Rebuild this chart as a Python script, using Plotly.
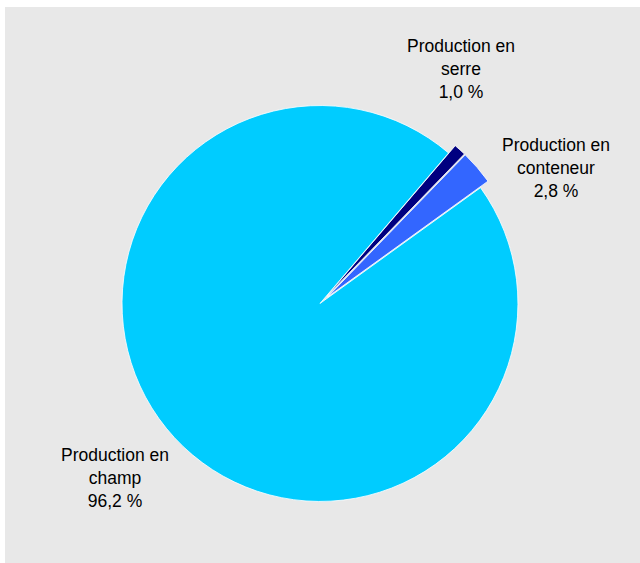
import plotly.graph_objects as go

# data
labels = ['Production en serre', 'Production en conteneur', 'Production en champ']
label_lines = ['Production en<br>serre', 'Production en<br>conteneur', 'Production en<br>champ']
values = [1.0, 2.8, 96.2]
colors = ['#000080', '#3366ff', '#00ccff']
pulls = [0.05, 0.05, 0]

# label anchor positions (paper coords)
label_x = [0.718, 0.868, 0.173]
label_y = [0.889, 0.711, 0.153]

fig = go.Figure()
fig.add_trace(go.Pie(
    labels=labels, values=values, sort=False, direction='clockwise',
    rotation=40.5, pull=pulls, textinfo='none', hoverinfo='label+percent',
    marker=dict(colors=colors, line=dict(color='white', width=0.8)),
    domain=dict(x=[0.1687, 0.8234], y=[0.0929, 0.8406]),
    showlegend=False,
))

for txt, v, x, y in zip(label_lines, values, label_x, label_y):
    fig.add_annotation(
        text=txt + '<br>' + f'{v:.1f} %'.replace('.', ','),
        x=x, y=y, xref='paper', yref='paper', showarrow=False,
        xanchor='center', yanchor='middle', align='center',
        font=dict(family='Liberation Sans, Arial', size=17.5, color='black'),
    )

fig.add_shape(type='rect', xref='paper', yref='paper', x0=0, y0=0, x1=1, y1=1,
              fillcolor='#e8e8e8', line=dict(width=0), layer='below')

fig.update_layout(
    width=640, height=563,
    margin=dict(l=5, t=7, r=0, b=0),
    paper_bgcolor='white',
)
fig.write_html('out.html', config={'displayModeBar': False},
               post_script="document.body.style.margin = '0px';")
